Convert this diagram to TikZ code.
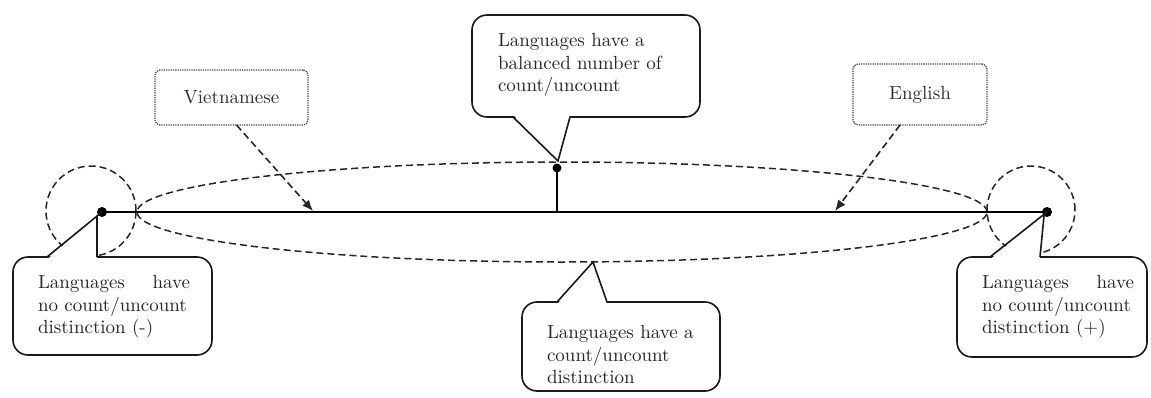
\documentclass[tikz,border=0pt]{standalone}
\usepackage{fontspec}
\usetikzlibrary{arrows.meta}
\newfontfamily\labfamily{lmroman10-regular.otf}
\newcommand\labelfont{\labfamily\fontsize{19}{22.5}\selectfont}
\begin{document}
\begin{tikzpicture}[x=1pt,y=-1pt,
  every node/.style={inner sep=0pt, outer sep=0pt},
  bubble/.style={draw=black!90, line width=1.6pt, fill=white, rounded corners=15pt},
  tail/.style={draw=black!90, line width=1.6pt, line join=miter},
  tag/.style={draw=black!70, line width=1.3pt, densely dotted, rounded corners=5pt, fill=white,
    font=\labelfont, text=black!82},
  label/.style={font=\labelfont, text=black!85, align=left, anchor=west},
  dashline/.style={draw=black!85, line width=1.5pt, dash pattern=on 7pt off 4pt},
  pointarrow/.style={draw=black!85, line width=1.6pt, dash pattern=on 7pt off 4pt,
    -{Latex[length=11pt,width=9pt]}},
  axis/.style={draw=black, line width=2.4pt},
  dot/.style={circle, fill=black, minimum size=10pt}
]
\useasboundingbox (0,0) rectangle (1151,397);

% tail of a speech bubble: base from x=#1 to x=#2 at height #3, corner points #4, #5 = shift into the box
\newcommand\bubbletail[5]{%
  \fill[white] (#1,#3+#5) -- #4 -- (#2,#3+#5) -- cycle;
  \draw[tail] (#1,#3) -- #4 -- (#2,#3);}

% the scale: wide ellipse and the two end circles
\draw[dashline] (562,212) ellipse [x radius=425pt, y radius=50pt];
\draw[dashline] (91,211) circle [radius=45pt];
\draw[dashline] (1031,210) circle [radius=44pt];

% end points and middle marker
\node[dot] (left) at (102,212) {};
\node[dot] (right) at (1047,212) {};
\node[dot, minimum size=9pt] (mid) at (557,168) {};
\coordinate (midbase) at (557,212);
\draw[axis] (left.center) -- (right.center);
\draw[axis] (midbase) -- (mid.center);

% language tags
\node[tag, minimum width=153pt, minimum height=55pt] (viet) at (231.5,97.5) {Vietnamese};
\node[tag, minimum width=134pt, minimum height=61pt] (eng) at (920,94.5) {English};
\coordinate (vietpos) at (313,211);
\coordinate (engpos) at (835,211);
\draw[pointarrow] ([xshift=5pt]viet.south) -- (vietpos);
\draw[pointarrow] ([xshift=-20pt]eng.south) -- (engpos);

% tips of the bubbles
\coordinate (toptip) at (558,161);
\coordinate (bottip) at (593,262);
\coordinate (leftbend) at (97,216);
\coordinate (rightbend) at (1044,216);

% top bubble
\node[bubble, minimum width=228pt, minimum height=102pt] (topbox) at (586,66) {};
\bubbletail{513}{570}{117}{(toptip)}{-2.5}
\node[label] (toptext) at (498,65) {Languages have a\\balanced number of\\count/uncount};

% middle bottom bubble
\node[bubble, minimum width=198pt, minimum height=89pt] (midbox) at (621,346.5) {};
\bubbletail{557}{607}{302}{(bottip)}{2.5}
\node[label] (midtext) at (547,355) {Languages have a\\count/uncount\\distinction};

% left bubble
\node[bubble, minimum width=199pt, minimum height=98pt] (leftbox) at (112.5,306) {};
\bubbletail{47}{97}{257}{(left.center) -- (leftbend)}{2.5}
\node[label, text width=152pt] (lefttext) at (38,307) {Languages\hfill have\\no count/uncount\\distinction (-)};

% right bubble
\node[bubble, minimum width=190pt, minimum height=100pt] (rightbox) at (1052,307) {};
\bubbletail{990}{1040}{257}{(right.center) -- (rightbend)}{2.5}
\node[label, text width=152pt] (righttext) at (982,307) {Languages\hfill have\\no count/uncount\\distinction (+)};
\end{tikzpicture}
\end{document}
